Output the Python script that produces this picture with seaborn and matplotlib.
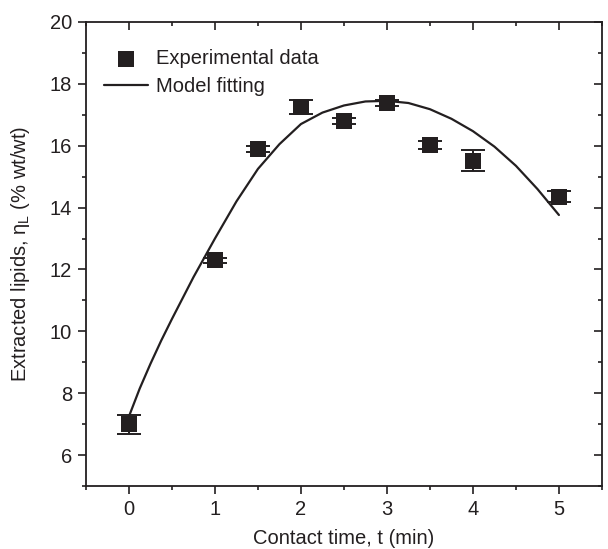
import matplotlib
matplotlib.use("Agg")
import matplotlib.pyplot as plt
import seaborn as sns
import pandas as pd
from matplotlib.ticker import MultipleLocator

# Experimental data
time_min = [0, 1, 1.5, 2, 2.5, 3, 3.5, 4, 5]
lipids = [7.0, 12.3, 15.9, 17.25, 16.8, 17.38, 16.02, 15.52, 14.35]
lipids_err = [0.31, 0.08, 0.1, 0.22, 0.1, 0.1, 0.12, 0.33, 0.17]

# Model fitting curve
model_t = [0, 0.125, 0.25, 0.375, 0.5, 0.75, 1.0, 1.25, 1.5, 1.75, 2.0, 2.25, 2.5,
           2.75, 3.0, 3.25, 3.5, 3.75, 4.0, 4.25, 4.5, 4.75, 5.0]
model_y = [7.25, 8.15, 8.95, 9.7, 10.4, 11.75, 13.0, 14.2, 15.25, 16.05, 16.7, 17.07, 17.3,
           17.43, 17.45, 17.38, 17.18, 16.87, 16.47, 15.97, 15.35, 14.6, 13.76]

ink = "#231f20"
fs = 14.5

sns.set_theme(style="ticks")
plt.rcParams["font.family"] = ["Liberation Sans", "DejaVu Sans"]
plt.rcParams["mathtext.fontset"] = "custom"
plt.rcParams["mathtext.rm"] = "Liberation Sans"
plt.rcParams["mathtext.it"] = "Liberation Sans"

fig = plt.figure(figsize=(6.08, 5.49), dpi=100)
ax = fig.add_axes([0.1414, 0.1148, 0.8486, 0.8452])

df_model = pd.DataFrame({"t": model_t, "y": model_y})
df_exp = pd.DataFrame({"t": time_min, "y": lipids, "err": lipids_err})

sns.lineplot(data=df_model, x="t", y="y", ax=ax, color=ink, lw=1.6,
             label="Model fitting", sort=True, estimator=None)
ax.errorbar(df_exp["t"], df_exp["y"], yerr=df_exp["err"], fmt="none",
            ecolor=ink, elinewidth=1.4, capsize=8.8, capthick=1.4, zorder=3)
sns.scatterplot(data=df_exp, x="t", y="y", ax=ax, marker="s", s=125,
                color=ink, edgecolor=ink, linewidth=0, label="Experimental data", zorder=4)

ax.set_xlim(-0.5, 5.5)
ax.set_ylim(5, 20)
ax.xaxis.set_major_locator(MultipleLocator(1))
ax.xaxis.set_minor_locator(MultipleLocator(0.5))
ax.yaxis.set_minor_locator(MultipleLocator(1))
ax.set_yticks([6, 8, 10, 12, 14, 16, 18, 20])

for s in ax.spines.values():
    s.set_color(ink)
    s.set_linewidth(1.3)
    s.set_visible(True)

ax.tick_params(which="both", direction="out", bottom=True, left=True, top=False, right=False,
               color=ink, width=1.2, labelsize=fs, labelcolor=ink, pad=4)
ax.tick_params(which="major", length=6)
ax.tick_params(which="minor", length=3)

ax2 = ax.secondary_xaxis("top")
ax2.xaxis.set_major_locator(MultipleLocator(1))
ax2.xaxis.set_minor_locator(MultipleLocator(0.5))
ax2.tick_params(which="both", direction="in", color=ink, width=1.2, labeltop=False)
ax2.tick_params(which="major", length=6)
ax2.tick_params(which="minor", length=3)
ax3 = ax.secondary_yaxis("right")
ax3.yaxis.set_major_locator(MultipleLocator(2))
ax3.yaxis.set_minor_locator(MultipleLocator(1))
ax3.tick_params(which="both", direction="in", color=ink, width=1.2, labelright=False)
ax3.tick_params(which="major", length=6)
ax3.tick_params(which="minor", length=3)
for sec in (ax2, ax3):
    for s in sec.spines.values():
        s.set_visible(False)

ax.set_xlabel("Contact time, t (min)", fontsize=fs, color=ink, labelpad=7)
ax.set_ylabel(r"Extracted lipids, $\eta_{\rm L}$ (% wt/wt)", fontsize=fs, color=ink, labelpad=13)

handles, labels = ax.get_legend_handles_labels()
order = [labels.index("Experimental data"), labels.index("Model fitting")]
leg = ax.legend([handles[i] for i in order], [labels[i] for i in order],
                loc="upper left", bbox_to_anchor=(0.0, 0.98), frameon=False,
                fontsize=fs, handlelength=2.2, handletextpad=0.4, labelspacing=0.45,
                markerscale=1.0)
for t in leg.get_texts():
    t.set_color(ink)

fig.savefig("out.png", dpi=100)
